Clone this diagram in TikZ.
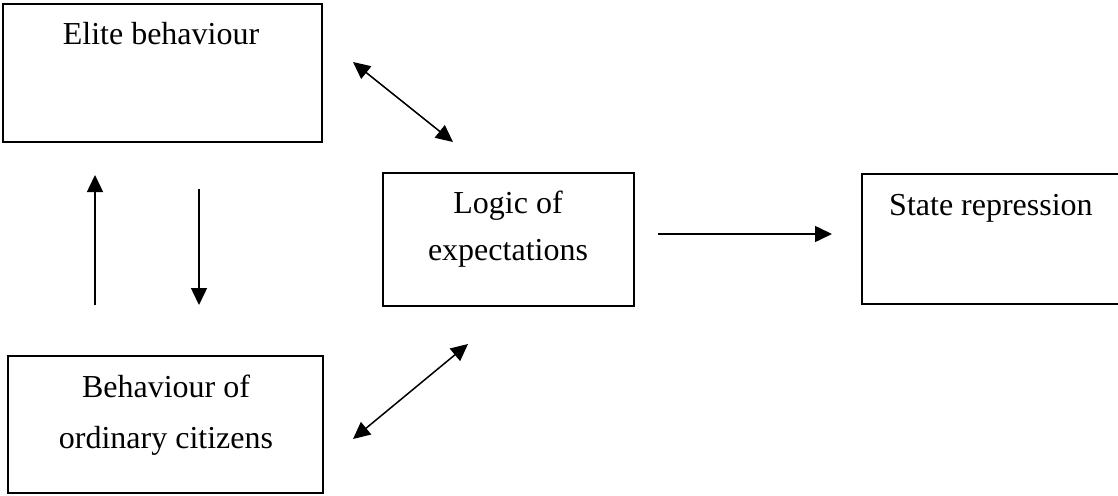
\documentclass[tikz,border=0pt]{standalone}
\usepackage{fontspec}
\setmainfont{Liberation Serif}
\usetikzlibrary{arrows.meta}
\begin{document}
\begin{tikzpicture}[x=1pt,y=-1pt,
  box/.style={draw, line width=1.3pt, rectangle, inner sep=0pt},
  lbl/.style={anchor=base, inner sep=0pt, font=\fontsize{32}{47}\selectfont},
  conn/.style={line width=1.5pt, -{Triangle[length=17pt,width=16pt]}},
  biconn/.style={line width=1.5pt, {Triangle[length=17pt,width=16pt]}-{Triangle[length=17pt,width=16pt]}}]
  \clip (0,0) rectangle (1118,495);
  \fill[white] (0,0) rectangle (1118,495);

  % boxes
  \node[box, minimum width=319pt, minimum height=138pt] (elite) at (162.5,73) {};
  \node[box, minimum width=315pt, minimum height=137pt] (citizens) at (165.5,424.5) {};
  \node[box, minimum width=251pt, minimum height=133pt] (logic) at (508.5,239.5) {};
  \node[box, minimum width=280pt, minimum height=130pt] (repression) at (1002,239) {};

  % labels
  \node[lbl] (eliteT) at (161,45) {Elite behaviour};
  \node[lbl] (logicT1) at (508,213) {Logic of};
  \node[lbl] (logicT2) at (508,260) {expectations};
  \node[lbl, anchor=base west] (repT) at (889,215) {State repression};
  \node[lbl] (citT1) at (166,397) {Behaviour of};
  \node[lbl] (citT2) at (166,448) {ordinary citizens};

  % connector end points
  \coordinate (elA) at (353,62);
  \coordinate (elB) at (453,142);
  \coordinate (ciA) at (468,344);
  \coordinate (ciB) at (353,439);
  \coordinate (upA) at (95,305);
  \coordinate (upB) at (95,175);
  \coordinate (dnA) at (199,189);
  \coordinate (dnB) at (199,305);
  \coordinate (rpA) at (658,234);
  \coordinate (rpB) at (832,234);

  % connectors
  \draw[biconn] (elA) -- (elB);
  \draw[biconn] (ciA) -- (ciB);
  \draw[conn] (upA) -- (upB);
  \draw[conn] (dnA) -- (dnB);
  \draw[conn] (rpA) -- (rpB);
\end{tikzpicture}
\end{document}
